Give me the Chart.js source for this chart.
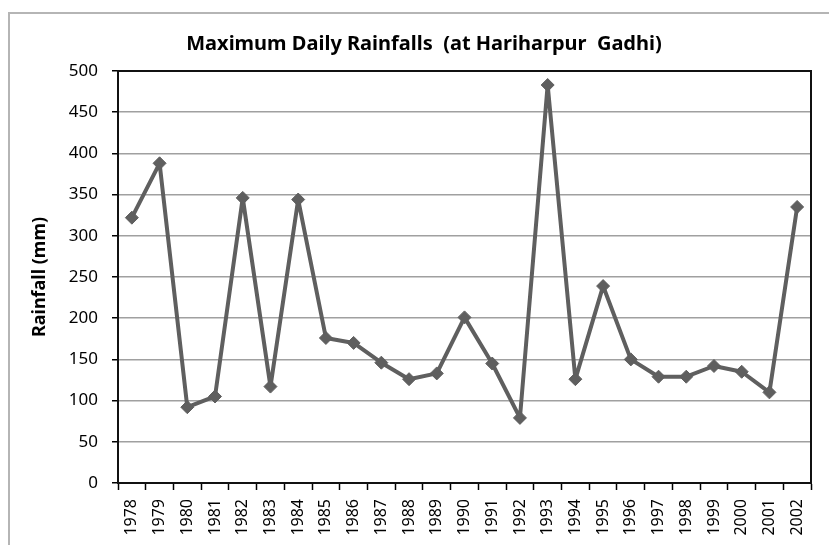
<!DOCTYPE html>
<html>
<head>
<meta charset="utf-8">
<script src="https://cdn.jsdelivr.net/npm/chart.js@4.4.0/dist/chart.umd.min.js"></script>
<style>
  html, body { margin: 0; padding: 0; background: #fff; }
  #wrap { width: 829px; height: 545px; }
</style>
</head>
<body>
<div id="wrap"><canvas id="rainChart"></canvas></div>
<script>
// years on the x axis
const years = ['1978','1979','1980','1981','1982','1983','1984','1985','1986','1987','1988','1989','1990',
               '1991','1992','1993','1994','1995','1996','1997','1998','1999','2000','2001','2002'];
// maximum daily rainfall (mm)
const rainfall = [322, 388, 92, 105, 346, 117, 344, 176, 170, 146, 126, 133, 201,
                  145, 79, 483, 126, 239, 150, 129, 129, 142, 135, 110, 335];
const yMin = 0;
const yMax = 500;
const yStep = 50;

const lineGray = '#5f5f5f';

// light outer frame + black frame round the plot area
const frames = {
  id: 'frames',
  beforeDraw(chart) {
    const c = chart.ctx;
    c.save();
    c.strokeStyle = '#b5b5b5';
    c.lineWidth = 2;
    c.strokeRect(9, 13, 840, 560);
    c.restore();
  },
  beforeDatasetsDraw(chart) {
    const a = chart.chartArea;
    const c = chart.ctx;
    c.save();
    c.strokeStyle = '#111';
    c.lineWidth = 2;
    c.strokeRect(a.left, a.top, a.right - a.left, a.bottom - a.top);
    c.restore();
  }
};

const ctx = document.getElementById('rainChart').getContext('2d');

const config = {
  type: 'line',
  data: {
    labels: years,
    datasets: [{
      label: 'Maximum daily rainfall',
      data: rainfall,
      yAxisID: 'y',
      borderColor: lineGray,
      backgroundColor: lineGray,
      borderWidth: 4,
      borderJoinStyle: 'round',
      pointStyle: 'rectRot',
      pointRadius: 6.5,
      pointBorderWidth: 1,
      pointBackgroundColor: lineGray,
      pointBorderColor: lineGray,
      tension: 0
    }]
  },
  options: {
    responsive: true,
    maintainAspectRatio: false,
    animation: false,
    layout: { padding: { left: 19, right: 0, top: 0, bottom: 0 } },
    plugins: {
      legend: { display: false },
      tooltip: { enabled: false },
      title: {
        display: true,
        text: 'Maximum Daily Rainfalls  (at Hariharpur  Gadhi)',
        color: '#000',
        font: { family: '"Noto Sans", sans-serif', size: 20, weight: 'bold', lineHeight: 1.2 },
        padding: { top: 31.8, bottom: 15.2 }
      }
    },
    scales: {
      x: {
        offset: true,
        grid: {
          display: true,
          offset: true,
          drawOnChartArea: false,
          drawTicks: true,
          tickLength: 7,
          tickColor: '#000',
          tickWidth: 1.5
        },
        border: { display: true, color: '#000', width: 2 },
        ticks: {
          autoSkip: false,
          minRotation: 90,
          maxRotation: 90,
          padding: 9,
          color: '#000',
          font: { family: '"Noto Sans", sans-serif', size: 16 }
        },
        afterFit: s => { s.height = 62; }
      },
      y: {
        position: 'left',
        min: yMin,
        max: yMax,
        ticks: {
          stepSize: yStep,
          padding: 14,
          color: '#000',
          font: { family: '"Noto Sans", sans-serif', size: 17 }
        },
        grid: {
          color: '#a0a0a0',
          lineWidth: 1.5,
          tickColor: '#000',
          tickLength: 6,
          tickWidth: 1.5
        },
        border: { display: true, color: '#000', width: 2 },
        title: {
          display: true,
          text: 'Rainfall (mm)',
          color: '#000',
          font: { family: '"Noto Sans", sans-serif', size: 18, weight: 'bold', lineHeight: 1.2 },
          padding: { top: 10, bottom: 0 }
        },
        afterFit: s => { s.width = 99; }
      },
      yRight: {
        position: 'right',
        display: true,
        grid: { display: false },
        border: { display: false },
        ticks: { display: false },
        afterFit: s => { s.width = 18; }
      }
    }
  },
  plugins: [frames]
};

const rainChart = new Chart(ctx, config);
</script>
</body>
</html>
